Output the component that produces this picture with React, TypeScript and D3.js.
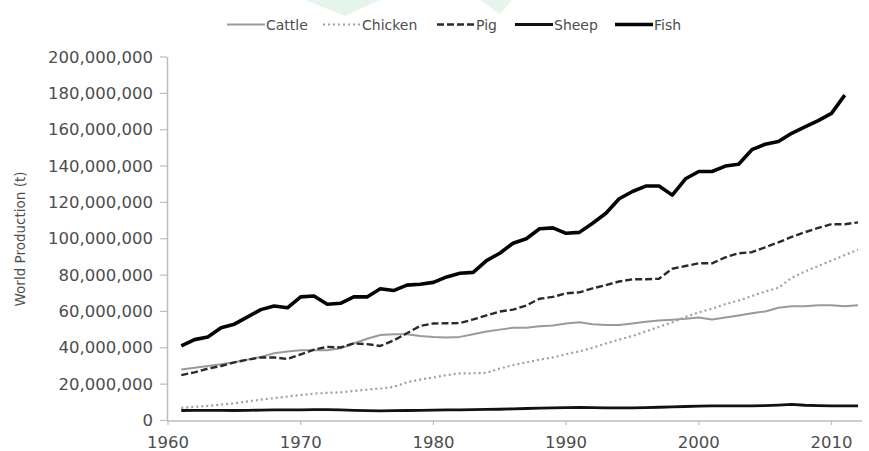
import React from "react";
import * as d3 from "d3";

const years: number[] = d3.range(1961, 2013);
const fishYears: number[] = d3.range(1961, 2012);

// values in millions of tonnes
const cattle = [28, 29, 30, 31, 32, 33.5, 35, 37, 38, 38.6, 38.6, 38.6, 39.7, 42.4, 45, 47, 47.5, 47.4, 46.5, 46, 45.7, 46, 47.5, 49, 50, 51, 51, 51.8, 52.3, 53.4, 54, 53, 52.5, 52.5, 53.4, 54.3, 55, 55.5, 56, 56.7, 55.6, 56.7, 57.8, 59, 60, 62, 62.8, 62.8, 63.4, 63.4, 62.8, 63.4];
const chicken = [7, 7.5, 8, 8.8, 9.4, 10.5, 11.5, 12.3, 13.2, 14, 14.8, 15.2, 15.5, 16.2, 17, 17.6, 18.5, 21, 22.5, 23.7, 25, 25.9, 26, 26.2, 28.6, 30.5, 32, 33.5, 34.7, 36.5, 38, 40, 42.4, 44.5, 46.5, 49, 51.5, 54, 57, 59.5, 61.5, 64, 66, 68.5, 71, 73, 78.5, 82, 85, 88, 91, 94];
const pig = [25, 26.5, 28.5, 30, 32, 33.5, 34.7, 34.7, 33.8, 36.4, 39, 40.5, 40.2, 42.4, 42, 41, 44, 48, 52, 53.4, 53.5, 53.6, 55.6, 57.8, 60, 61, 63.3, 67, 68, 70, 70.5, 72.7, 74.5, 76.5, 77.7, 77.7, 78, 83.5, 85, 86.5, 86.5, 89.8, 92, 92.6, 95.3, 98, 101, 103.6, 106, 108, 108, 109];
const sheep = [5.5, 5.6, 5.6, 5.6, 5.5, 5.6, 5.7, 5.8, 5.8, 5.9, 6, 6, 5.8, 5.6, 5.4, 5.3, 5.4, 5.5, 5.6, 5.7, 5.8, 5.9, 6, 6.1, 6.2, 6.4, 6.6, 6.8, 7, 7.1, 7.2, 7.1, 7, 7, 7, 7.1, 7.3, 7.5, 7.7, 7.9, 8, 8, 8, 8.1, 8.2, 8.5, 8.9, 8.4, 8.2, 8.1, 8.1, 8.1];
const fish = [41, 44.5, 46, 51, 53, 57, 61, 63, 62, 68, 68.5, 64, 64.5, 68, 68, 72.5, 71.5, 74.5, 75, 76, 79, 81, 81.5, 88, 92, 97.5, 100, 105.5, 106, 103, 103.5, 108.5, 114, 122, 126, 129, 129, 124, 133, 137, 137, 140, 141, 149, 152, 153.5, 158, 161.5, 165, 169, 179];

const yTicks = [0, 20, 40, 60, 80, 100, 120, 140, 160, 180, 200];
const xTicks = [1960, 1970, 1980, 1990, 2000, 2010];
const seriesNames = ["Cattle", "Chicken", "Pig", "Sheep", "Fish"];

const W = 869;
const H = 451;

const styles: Record<string, { stroke: string; width: number; dash?: string }> = {
  Cattle: { stroke: "#9a9a9a", width: 2 },
  Chicken: { stroke: "#a0a0a0", width: 2.2, dash: "2,3" },
  Pig: { stroke: "#2a2a2a", width: 2.4, dash: "7,3" },
  Sheep: { stroke: "#111", width: 2.8 },
  Fish: { stroke: "#050505", width: 3.6 },
};

export default function App() {
  const x = d3.scaleLinear().domain([1960, 2010]).range([168, 831.5]);
  const y = d3.scaleLinear().domain([0, 200]).range([420.5, 57]);

  const line = d3
    .line<[number, number]>()
    .x((d) => x(d[0]))
    .y((d) => y(d[1]));

  const data: Record<string, [number, number][]> = {
    Cattle: years.map((yr, i) => [yr, cattle[i]]),
    Chicken: years.map((yr, i) => [yr, chicken[i]]),
    Pig: years.map((yr, i) => [yr, pig[i]]),
    Sheep: years.map((yr, i) => [yr, sheep[i]]),
    Fish: fishYears.map((yr, i) => [yr, fish[i]]),
  };

  const fmt = d3.format(",");
  const legendX = [227, 323, 437, 515, 615];
  const font = "'DejaVu Sans', sans-serif";

  return (
    <svg
      width={W}
      height={H}
      style={{ position: "absolute", left: 0, top: 0, background: "#fff" }}
      xmlns="http://www.w3.org/2000/svg"
    >
      <rect x={0} y={0} width={W} height={H} fill="#fff" />
      {/* faint watermark shapes */}
      <polygon points="305,0 380,0 345,16" fill="#d6eedd" opacity={0.6} />
      <polygon points="480,0 512,0 500,14" fill="#d6eedd" opacity={0.6} />

      {/* legend */}
      {seriesNames.map((n, i) => {
        const s = styles[n];
        const lx = legendX[i];
        return (
          <g key={n}>
            <line
              x1={lx}
              x2={lx + 38}
              y1={24.5}
              y2={24.5}
              stroke={s.stroke}
              strokeWidth={s.width}
              strokeDasharray={s.dash}
            />
            <text
              x={lx + 39}
              y={29.5}
              fontFamily={font}
              fontSize={14}
              fill="#4d4d4d"
            >
              {n}
            </text>
          </g>
        );
      })}

      {/* axes */}
      <line x1={167.5} x2={167.5} y1={57} y2={421} stroke="#bdbdbd" strokeWidth={1.5} />
      <line x1={167} x2={862} y1={421} y2={421} stroke="#bdbdbd" strokeWidth={1.5} />
      {yTicks.map((t) => (
        <g key={t}>
          <line x1={160} x2={167} y1={y(t)} y2={y(t)} stroke="#bdbdbd" strokeWidth={1.2} />
          <text
            x={153}
            y={y(t) + 5.5}
            textAnchor="end"
            fontFamily={font}
            fontSize={16.5}
            fill="#4d4d4d"
          >
            {fmt(t * 1000000)}
          </text>
        </g>
      ))}
      {xTicks.map((t) => (
        <g key={t}>
          <line x1={x(t)} x2={x(t)} y1={421} y2={425} stroke="#bdbdbd" strokeWidth={1.2} />
          <text
            x={x(t)}
            y={448}
            textAnchor="middle"
            fontFamily={font}
            fontSize={16.5}
            fill="#4d4d4d"
          >
            {t}
          </text>
        </g>
      ))}
      <text
        transform={`translate(25,239) rotate(-90)`}
        textAnchor="middle"
        fontFamily={font}
        fontSize={13.5}
        fill="#4d4d4d"
      >
        World Production (t)
      </text>

      {/* series */}
      {seriesNames.map((n) => {
        const s = styles[n];
        return (
          <path
            key={n}
            d={line(data[n]) || ""}
            fill="none"
            stroke={s.stroke}
            strokeWidth={s.width}
            strokeDasharray={s.dash}
            strokeLinejoin="round"
          />
        );
      })}
    </svg>
  );
}
